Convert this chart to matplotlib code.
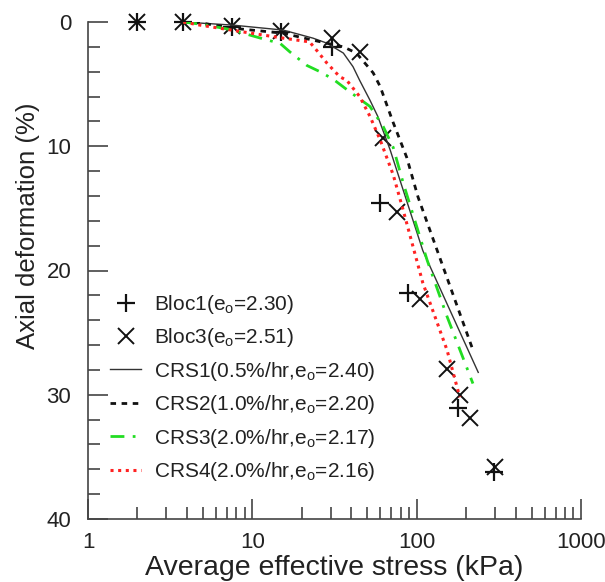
import matplotlib
matplotlib.use("Agg")
import matplotlib.pyplot as plt

plt.rcParams["font.family"] = "Liberation Sans"
plt.rcParams["mathtext.default"] = "regular"

# Bloc samples (oedometer)
bloc1_x = [2.0, 3.8, 7.5, 15.0, 30.6, 60.0, 89.0, 179.0, 296.0]
bloc1_y = [0.0, 0.0, 0.4, 0.8, 2.0, 14.6, 21.8, 31.1, 36.2]
bloc3_x = [2.0, 3.8, 7.5, 15.0, 30.6, 45.0, 62.0, 76.0, 105.0, 153.0, 184.0, 211.0, 300.0]
bloc3_y = [0.0, 0.0, 0.3, 0.7, 1.3, 2.4, 9.3, 15.3, 22.3, 27.9, 30.0, 31.9, 35.8]

# CRS tests
crs1_x = [3.8, 5.0, 7.6, 15.4, 23.4, 28.4, 35.8, 41.0, 45.0, 52.0, 58.0, 69.0, 109.0, 237.0]
crs1_y = [0.0, 0.1, 0.25, 0.65, 1.3, 1.7, 2.5, 3.6, 4.7, 6.3, 7.6, 10.3, 18.4, 28.2]
crs2_x = [3.8, 5.0, 7.6, 15.4, 22.3, 35.8, 43.0, 54.4, 60.0, 72.0, 87.0, 102.0, 220.0]
crs2_y = [0.0, 0.1, 0.5, 0.9, 1.4, 2.0, 2.5, 4.1, 5.2, 8.1, 10.9, 14.1, 26.4]
crs3_x = [3.8, 5.0, 7.3, 8.8, 12.3, 14.7, 16.9, 21.5, 25.8, 31.0, 39.0, 52.0, 62.5, 72.0, 83.0, 116.0, 153.0, 220.0]
crs3_y = [0.0, 0.2, 0.6, 0.9, 1.45, 1.7, 2.4, 3.5, 4.0, 4.6, 5.6, 6.8, 8.4, 10.1, 13.0, 19.2, 23.7, 29.1]
crs4_x = [3.8, 4.8, 8.8, 15.4, 22.3, 24.7, 28.4, 34.0, 37.6, 45.0, 52.0, 60.0, 72.0, 83.0, 109.0, 153.0, 183.0]
crs4_y = [0.0, 0.25, 0.8, 1.3, 1.6, 2.3, 3.3, 4.4, 4.7, 6.0, 7.6, 9.5, 12.3, 15.2, 21.0, 26.4, 30.2]

fig = plt.figure(figsize=(6.05, 5.82), dpi=100)
ax = fig.add_axes([88 / 605, 63 / 582, 493 / 605, 497 / 582])

ax.plot(bloc1_x, bloc1_y, ls="none", marker="+", ms=13, mew=1.6, color="#111111",
        label="Bloc1(e$_o$=2.30)", clip_on=False)
ax.plot(bloc3_x, bloc3_y, ls="none", marker="x", ms=11, mew=1.4, color="#111111",
        label="Bloc3(e$_o$=2.51)", clip_on=False)
ax.plot(crs1_x, crs1_y, ls="-", lw=1.0, color="#333333",
        label="CRS1(0.5%/hr,e$_o$=2.40)")
ax.plot(crs2_x, crs2_y, ls=(0, (2, 2)), lw=2.0, color="#111111",
        label="CRS2(1.0%/hr,e$_o$=2.20)")
ax.plot(crs3_x, crs3_y, ls=(0, (5, 3, 1, 3)), lw=2.0, color="#22dd22",
        label="CRS3(2.0%/hr,e$_o$=2.17)")
ax.plot(crs4_x, crs4_y, ls=(0, (1, 1.5)), lw=2.2, color="#ff2222",
        label="CRS4(2.0%/hr,e$_o$=2.16)")

ax.set_xscale("log")
ax.set_xlim(1, 1000)
ax.set_ylim(40, 0)
ax.set_yticks([0, 10, 20, 30, 40])
ax.set_yticks(range(0, 41, 2), minor=True)
ax.set_xticks([1, 10, 100, 1000], ["1", "10", "100", "1000"])

for s in ["top", "right"]:
    ax.spines[s].set_visible(False)
for s in ["left", "bottom"]:
    ax.spines[s].set_color("#444444")
    ax.spines[s].set_linewidth(1.2)

ax.tick_params(which="major", direction="in", length=14.5, width=1.2, color="#444444",
               labelsize=16, labelcolor="#222222")
ax.tick_params(which="minor", direction="in", length=8.5, width=1.2, color="#444444")
ax.tick_params(axis="x", which="major", pad=9)
ax.tick_params(axis="y", which="major", pad=12)

ax.set_xlabel("Average effective stress (kPa)", fontsize=20.5, color="#222222", labelpad=2)
ax.set_ylabel("Axial deformation (%)", fontsize=18.5, color="#222222")
ax.yaxis.set_label_coords(-0.097, 0.59)

ax.legend(loc="upper left", bbox_to_anchor=(0.045, 0.455), frameon=False, fontsize=15,
          handlelength=1.5, handletextpad=0.6, labelspacing=0.5, borderpad=0,
          borderaxespad=0, labelcolor="#222222")

fig.savefig("out.png", dpi=100)
